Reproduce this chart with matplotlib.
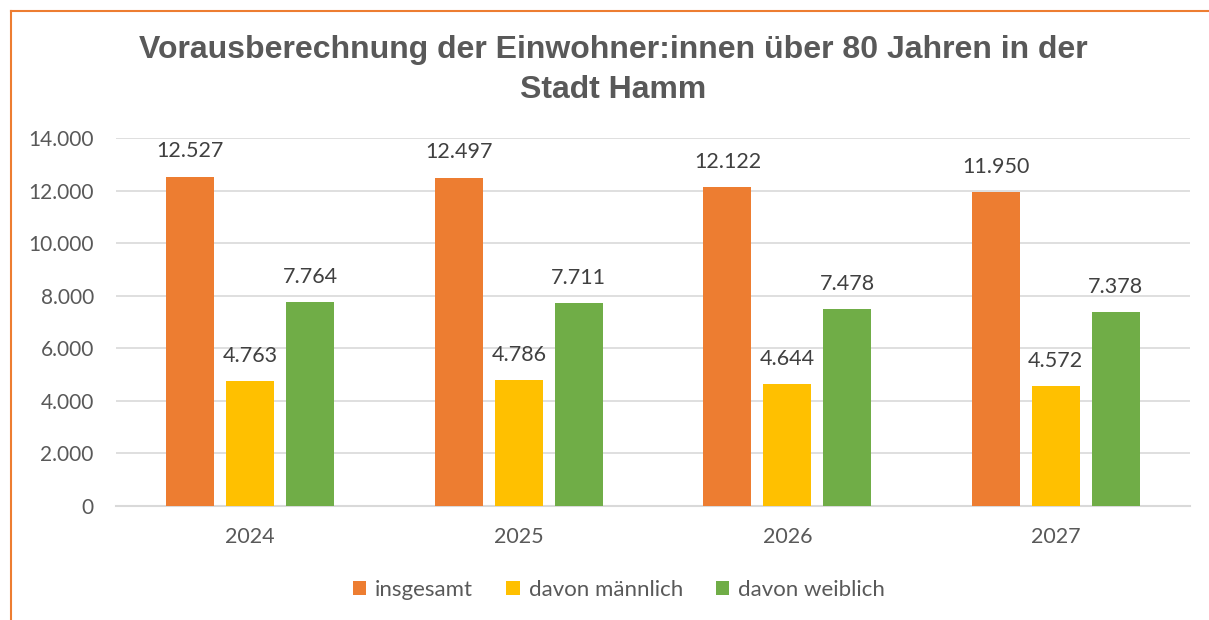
import matplotlib
matplotlib.use("Agg")
import matplotlib.pyplot as plt
import numpy as np

years = ["2024", "2025", "2026", "2027"]
series_names = ["insgesamt", "davon männlich", "davon weiblich"]
insgesamt = [12527, 12497, 12122, 11950]
maennlich = [4763, 4786, 4644, 4572]
weiblich = [7764, 7711, 7478, 7378]
colors = ["#ED7D31", "#FFC000", "#70AD47"]
yticks = [0, 2000, 4000, 6000, 8000, 10000, 12000, 14000]

def fmt(v):
    return f"{v:,}".replace(",", ".")

W, H = 1209, 620
fig = plt.figure(figsize=(W / 100, H / 100), dpi=100)
ax = fig.add_axes([116 / W, 1 - 506 / H, (1190 - 116) / W, (506 - 138) / H])

x = np.arange(len(years))
width = 0.179
offsets = [-0.223, 0.0, 0.223]
font = "Lato"
for vals, off, c, name in zip([insgesamt, maennlich, weiblich], offsets, colors, series_names):
    bars = ax.bar(x + off, vals, width, color=c, label=name, zorder=3)
    for b, v in zip(bars, vals):
        ax.annotate(fmt(v), (b.get_x() + b.get_width() / 2, v), xytext=(0, 11),
                    textcoords="offset points", ha="center", va="bottom",
                    fontsize=15.5, color="#404040", family=font)

ax.set_xlim(-0.5, len(years) - 0.5)
ax.set_ylim(0, 14000)
ax.set_yticks(yticks)
ax.set_yticklabels([fmt(t) for t in yticks], fontsize=15, color="#595959", family=font)
ax.set_xticks(x)
ax.set_xticklabels(years, fontsize=15.5, color="#595959", family=font)
ax.tick_params(axis="both", length=0)
ax.tick_params(axis="y", pad=16)
ax.tick_params(axis="x", pad=15)
ax.grid(axis="y", color="#D9D9D9", linewidth=1.2, zorder=0)
for s in ["top", "right", "left"]:
    ax.spines[s].set_visible(False)
ax.spines["bottom"].set_color("#D9D9D9")
ax.spines["bottom"].set_linewidth(1.5)

fig.text(613 / W, 1 - 70 / H, "Vorausberechnung der Einwohner:innen über 80 Jahren in der\nStadt Hamm",
         ha="center", va="center", fontsize=23, fontweight="bold", color="#595959",
         family="Liberation Sans", linespacing=1.4)

leg = fig.legend(loc="center", bbox_to_anchor=(619 / W, 1 - 590 / H), ncol=3, frameon=False,
                 prop={"family": font, "size": 16}, handlelength=0.6, handleheight=0.6,
                 handletextpad=0.4, columnspacing=1.5)
for t in leg.get_texts():
    t.set_color("#595959")

# orange frame lines (left and top)
fig.add_artist(plt.Line2D([10.5 / W, 10.5 / W], [0, 1 - 11 / H], transform=fig.transFigure, color="#ED7D31", lw=1.5))
fig.add_artist(plt.Line2D([10.5 / W, 1], [1 - 11 / H, 1 - 11 / H], transform=fig.transFigure, color="#ED7D31", lw=1.5))

fig.savefig("out.png", dpi=100, facecolor="white")
